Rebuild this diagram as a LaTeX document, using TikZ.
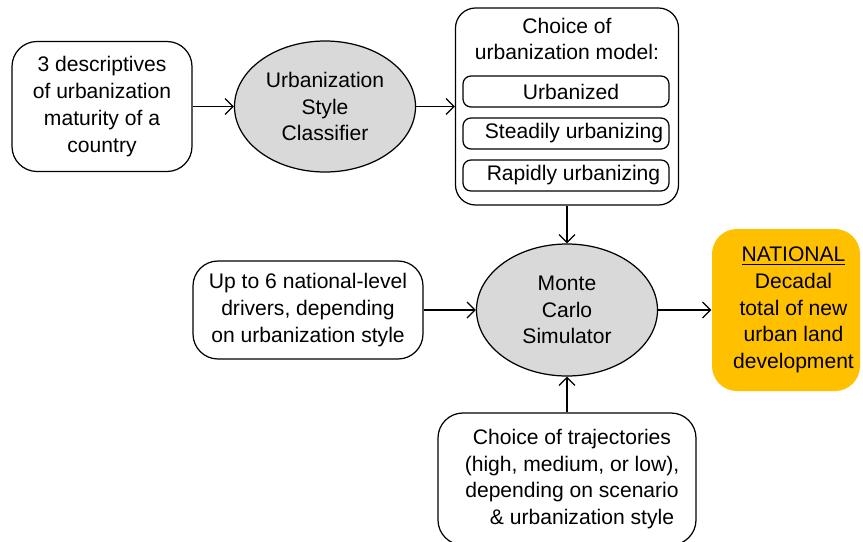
\documentclass[tikz,border=0pt]{standalone}
\usepackage{fontspec}
\setmainfont{Liberation Sans}
\usetikzlibrary{arrows.meta,shapes.geometric}
\definecolor{natorange}{HTML}{FFC000}
\definecolor{simgray}{HTML}{D9D9D9}
\begin{document}
\begin{tikzpicture}[font=\fontsize{12}{15.2}\selectfont,
      line width=0.7pt,
      inbox/.style={draw,rounded corners=0.5cm,align=center,inner sep=0pt},
      engine/.style={draw,ellipse,fill=simgray,align=center,inner sep=0pt,
        minimum width=3.62cm},
      modelbox/.style={draw,rounded corners=0.16cm,align=center,inner sep=0pt,
        minimum width=4.12cm,minimum height=0.62cm},
      flow/.style={-{Straight Barb[length=1.6mm,width=3.2mm]}}]
      \useasboundingbox (0,0) rectangle (17.26,-10.82);
      \clip (0,0) rectangle (17.26,-10.82);
      % top row
      \path (2.04,-2.13) node[inbox,minimum width=3.6cm,minimum height=2.6cm] (desc)
       {3 descriptives\\of urbanization\\maturity of a\\country};
      \path (6.5,-2.13) node[engine,minimum height=2.62cm] (classifier)
       {Urbanization\\Style\\Classifier};
      \path (11.34,-2.13) node[draw,rounded corners=0.4cm,minimum width=4.46cm,
       minimum height=3.94cm] (model) {};
      \path (11.34,-0.78) node[align=center] (modeltitle)
       {Choice of\\urbanization model:};
      \path (11.32,-1.83) node[modelbox] (urbanized) {\hspace*{2mm}Urbanized};
      \path (11.32,-2.67) node[modelbox] (steadily) {\hspace*{3.2mm}Steadily urbanizing};
      \path (11.32,-3.51) node[modelbox] (rapidly) {\hspace*{3mm}Rapidly urbanizing};
      % middle row
      \path (6.16,-6.2) node[inbox,minimum width=4.6cm,minimum height=1.96cm] (drivers)
       {Up to 6 national-level\\drivers, depending\\on urbanization style};
      \path (11.34,-6.2) node[engine,minimum height=2.64cm] (simulator)
       {Monte\\Carlo\\Simulator};
      \path (15.72,-6.2) node[fill=natorange,rounded corners=0.5cm,align=center,
       inner sep=0pt,minimum width=2.96cm,minimum height=3.24cm] (national)
       {\hspace*{3mm}\underline{NATIONAL}\\\hspace*{3mm}Decadal\\\hspace*{3mm}total of new\\
        \hspace*{3mm}urban land\\\hspace*{3mm}development};
      % bottom
      \path (11.34,-9.58) node[inbox,minimum width=5.16cm,minimum height=2.64cm] (trajectory)
       {\hspace*{2mm}Choice of trajectories\\\hspace*{2mm}(high, medium, or low),\\
        \hspace*{2mm}depending on scenario\\\hspace*{6mm}\& urbanization style};
      % connectors
      \draw[flow] (desc) -- (classifier);
      \draw[flow] (classifier) -- (model);
      \draw[flow] (model) -- (simulator);
      \draw[flow] (drivers) -- (simulator);
      \draw[flow] (simulator) -- (national);
      \draw[flow] (trajectory) -- (simulator);
     \end{tikzpicture}
\end{document}
